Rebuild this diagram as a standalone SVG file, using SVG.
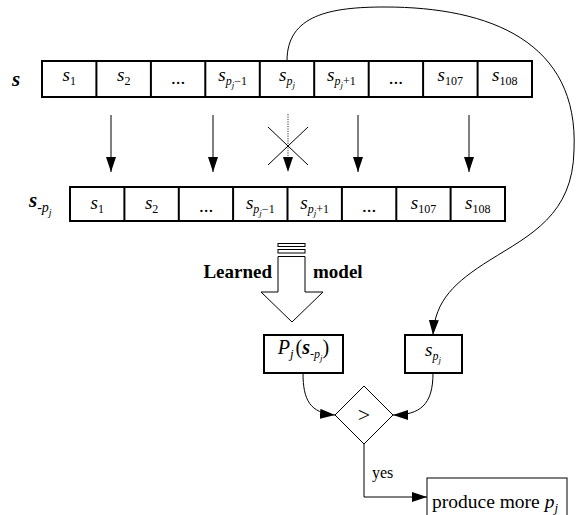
<svg xmlns="http://www.w3.org/2000/svg" width="576" height="515" viewBox="0 0 576 515">
  <defs>
    <marker id="head" viewBox="0 0 15 10" refX="15" refY="5" markerWidth="15" markerHeight="10" markerUnits="userSpaceOnUse" orient="auto">
      <path d="M0,0 L15,5 L0,10 Z" fill="#000" stroke="none"/>
    </marker>
    <style>
      text { font-family: "Liberation Serif", "Times New Roman", serif; fill: #000; }
      .cell { font-size: 19px; font-style: italic; text-anchor: middle; }
      .sb { font-size: 12px; }
      .ssb { font-size: 9px; }
      .rm { font-style: normal; }
      .bi { font-weight: bold; font-style: italic; }
      .bold { font-size: 19px; font-weight: bold; }
      .box { fill: #fff; stroke: #000; stroke-width: 2; }
      .thin { fill: #fff; stroke: #000; stroke-width: 1; }
      .conn { fill: none; stroke: #000; stroke-width: 1; }
      .arrow { marker-end: url(#head); }
      .dotted { stroke-dasharray: 1.2 1.2; stroke: #333; }
    </style>
  </defs>

  <!-- full sequence s -->
  <g id="seq-full">
    <text x="12" y="86" class="bi" font-size="21">s</text>
    <rect x="42" y="61" width="490" height="36" class="box"/>
    <path d="M96.4,61V97M150.9,61V97M205.3,61V97M259.8,61V97M314.2,61V97M368.7,61V97M423.1,61V97M477.6,61V97" class="box"/>
    <text x="69.2" y="81" class="cell"><tspan>s</tspan><tspan class="sb rm" dy="4">1</tspan></text>
    <text x="123.7" y="81" class="cell"><tspan>s</tspan><tspan class="sb rm" dy="4">2</tspan></text>
    <text x="178.1" y="84" class="cell rm" font-size="15">...</text>
    <text x="232.6" y="81" class="cell"><tspan>s</tspan><tspan class="sb" dy="4">p</tspan><tspan class="ssb" dy="3">j</tspan><tspan class="sb rm" dy="-3">−1</tspan></text>
    <text x="287" y="81" class="cell"><tspan>s</tspan><tspan class="sb" dy="4">p</tspan><tspan class="ssb" dy="3">j</tspan></text>
    <text x="341.4" y="81" class="cell"><tspan>s</tspan><tspan class="sb" dy="4">p</tspan><tspan class="ssb" dy="3">j</tspan><tspan class="sb rm" dy="-3">+1</tspan></text>
    <text x="395.9" y="84" class="cell rm" font-size="15">...</text>
    <text x="450.3" y="81" class="cell"><tspan>s</tspan><tspan class="sb rm" dy="4">107</tspan></text>
    <text x="504.8" y="81" class="cell"><tspan>s</tspan><tspan class="sb rm" dy="4">108</tspan></text>
  </g>

  <!-- sequence without position p_j -->
  <g id="seq-reduced">
    <text x="29" y="207" class="bi" font-size="21">s<tspan class="rm" font-weight="normal" font-size="14" dy="5">-</tspan><tspan font-weight="normal" font-size="14">p</tspan><tspan font-weight="normal" font-size="10" dy="4">j</tspan></text>
    <rect x="70" y="187" width="435" height="34" class="box"/>
    <path d="M124.4,187V221M178.8,187V221M233.1,187V221M287.5,187V221M341.9,187V221M396.3,187V221M450.6,187V221" class="box"/>
    <text x="97.2" y="209" class="cell"><tspan>s</tspan><tspan class="sb rm" dy="4">1</tspan></text>
    <text x="151.6" y="209" class="cell"><tspan>s</tspan><tspan class="sb rm" dy="4">2</tspan></text>
    <text x="206" y="212" class="cell rm" font-size="15">...</text>
    <text x="260.3" y="209" class="cell"><tspan>s</tspan><tspan class="sb" dy="4">p</tspan><tspan class="ssb" dy="3">j</tspan><tspan class="sb rm" dy="-3">−1</tspan></text>
    <text x="314.7" y="209" class="cell"><tspan>s</tspan><tspan class="sb" dy="4">p</tspan><tspan class="ssb" dy="3">j</tspan><tspan class="sb rm" dy="-3">+1</tspan></text>
    <text x="369.1" y="212" class="cell rm" font-size="15">...</text>
    <text x="423.5" y="209" class="cell"><tspan>s</tspan><tspan class="sb rm" dy="4">107</tspan></text>
    <text x="477.8" y="209" class="cell"><tspan>s</tspan><tspan class="sb rm" dy="4">108</tspan></text>
  </g>

  <!-- learned model block arrow -->
  <g id="learned-model">
    <rect x="278" y="243.5" width="27" height="3" class="thin" stroke-width="1.3"/>
    <rect x="278" y="249.5" width="27" height="3.5" class="thin" stroke-width="1.3"/>
    <path d="M278,256.5 H305 V292 H323 L292,322 L261,292 H278 Z" class="thin"/>
    <text x="272" y="278" class="bold" text-anchor="end">Learned</text>
    <text x="313" y="278" class="bold">model</text>
  </g>

  <!-- predicted probability -->
  <g id="prob">
    <rect x="264" y="335" width="79" height="38" class="box"/>
    <text x="303.5" y="354" font-size="20" text-anchor="middle"><tspan font-style="italic">P</tspan><tspan font-style="italic" font-size="13" dy="4">j</tspan><tspan dy="-4" dx="2">(</tspan><tspan class="bi">s</tspan><tspan font-style="italic" font-size="12" dy="4">-p</tspan><tspan font-style="italic" font-size="9" dy="3">j</tspan><tspan dy="-7">)</tspan></text>
  </g>

  <!-- actual value -->
  <g id="actual">
    <rect x="405" y="335" width="57" height="38" class="box"/>
    <text x="433" y="356" class="cell"><tspan>s</tspan><tspan class="sb" dy="4">p</tspan><tspan class="ssb" dy="3">j</tspan></text>
  </g>

  <!-- comparison -->
  <g id="compare">
    <path d="M364,386 L393,415 L364,444 L335,415 Z" class="thin"/>
    <text x="364" y="422" font-size="22" text-anchor="middle">&gt;</text>
  </g>

  <!-- result -->
  <g id="produce">
    <rect x="427" y="478" width="140" height="40" class="thin"/>
    <text x="432" y="508" font-size="19.5">produce more <tspan font-style="italic">p</tspan><tspan font-style="italic" font-size="13" dy="4">j</tspan></text>
  </g>

  <!-- connectors -->
  <g id="connectors">
    <line x1="111" y1="115" x2="111" y2="172" class="conn arrow"/>
    <line x1="213" y1="115" x2="213" y2="172" class="conn arrow"/>
    <line x1="288" y1="114" x2="288" y2="157" class="conn dotted"/>
    <path d="M283,157 L293,157 L288,172 Z" fill="#000"/>
    <line x1="358" y1="115" x2="358" y2="172" class="conn arrow"/>
    <line x1="469" y1="115" x2="469" y2="172" class="conn arrow"/>
    <path d="M268,127 L308,165 M308,127 L268,165" class="conn"/>
    <path d="M287,61 C287,15 330,7 385,7 C490,7 579,42 574,150 C573,215 530,235 490,260 C455,282 435,300 433,335" class="conn arrow"/>
    <path d="M303,373 C303,400 310,413 335,415" class="conn arrow"/>
    <path d="M433,373 C433,405 420,415 393,415" class="conn arrow"/>
    <path d="M364,444 V497 H427" class="conn arrow"/>
    <text x="372" y="478" font-size="16">yes</text>
  </g>
</svg>
